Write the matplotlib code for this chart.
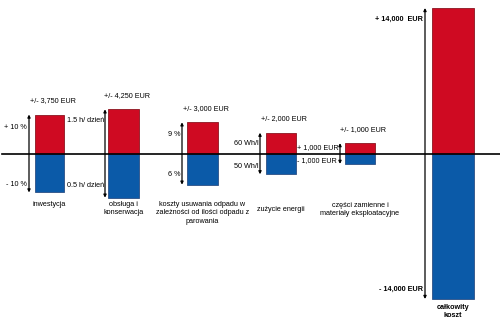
import matplotlib
matplotlib.use('Agg')
import matplotlib.pyplot as plt

# data
categories = ['inwestycja', 'obsługa i\nkonserwacja',
              'koszty usuwania odpadu w\nzależności od ilości odpadu z\nparowania',
              'zużycie energii', 'części zamienne i\nmateriały eksploatacyjne',
              'całkowity\nkoszt']
saving_eur = [3750, 4250, 3000, 2000, 1000, 14000]
value_labels = ['+/- 3,750 EUR', '+/- 4,250 EUR', '+/- 3,000 EUR',
                '+/- 2,000 EUR', '+/- 1,000 EUR', '']

# layout (pixels of a 500 x 326 picture)
bar_left = [35, 108, 187, 266, 345, 432]
bar_width = [29, 31, 31, 30, 30, 42]
arrow_x = [29, 105, 182, 260, 340, 425]
cat_top = [201, 201, 201, 206, 202, 304]

# side notes: text, x, y, ha, bold
notes = [
    ('+ 10 %', 27, 127, 'right', False),
    ('- 10 %', 27, 184, 'right', False),
    ('1.5 h/ dzień', 67, 120, 'left', False),
    ('0.5 h/ dzień', 67, 185, 'left', False),
    ('9 %', 180, 134, 'right', False),
    ('6 %', 180, 174, 'right', False),
    ('60 Wh/l', 259, 143, 'right', False),
    ('50 Wh/l', 259, 166, 'right', False),
    ('+ 1,000 EUR', 297, 148, 'left', False),
    ('- 1,000 EUR', 297, 161, 'left', False),
    ('+ 14,000  EUR', 423, 19, 'right', True),
    ('- 14,000 EUR', 423, 289, 'right', True),
]

BASE = 153.5                 # pixel row of the zero line
EUR_PER_PX = 14000 / 145.5


def ypx(p):
    return (BASE - p) * EUR_PER_PX


plt.rcParams['font.family'] = ['Liberation Sans', 'DejaVu Sans']
FS = 5.2

fig = plt.figure(figsize=(5.0, 3.26), dpi=100)
ax = fig.add_axes([0, 0, 1, 1])
ax.set_xlim(0, 500)
ax.set_ylim(ypx(326), ypx(0))
ax.axis('off')

red = '#cf0a22'
blue = '#0b5aa8'

for i, v in enumerate(saving_eur):
    ax.bar(bar_left[i], v, width=bar_width[i], align='edge', bottom=0,
           color=red, edgecolor='#8c1520', linewidth=0.6, zorder=2)
    ax.bar(bar_left[i], -v, width=bar_width[i], align='edge', bottom=0,
           color=blue, edgecolor='#2c4f85', linewidth=0.6, zorder=2)
    ax.annotate('', xy=(arrow_x[i], v), xytext=(arrow_x[i], -v),
                arrowprops=dict(arrowstyle='<|-|>', color='black', lw=0.9,
                                mutation_scale=4, shrinkA=0, shrinkB=0),
                zorder=3)
    cx = bar_left[i] + bar_width[i] / 2
    if value_labels[i]:
        ax.text(cx + 3, v + 14 * EUR_PER_PX, value_labels[i], fontsize=FS,
                ha='center', va='center')
    last = i == len(saving_eur) - 1
    ax.text(cx, ypx(cat_top[i]), categories[i], fontsize=FS, ha='center',
            va='top', linespacing=1.25,
            fontweight='bold' if last else 'normal')

for txt, x, y, ha, bold in notes:
    ax.text(x, ypx(y), txt, fontsize=FS, ha=ha, va='center',
            fontweight='bold' if bold else 'normal')

# zero line across the chart
ax.plot([2, 500], [0, 0], color='black', lw=1.2, zorder=4)

fig.savefig('out.png', dpi=100)
